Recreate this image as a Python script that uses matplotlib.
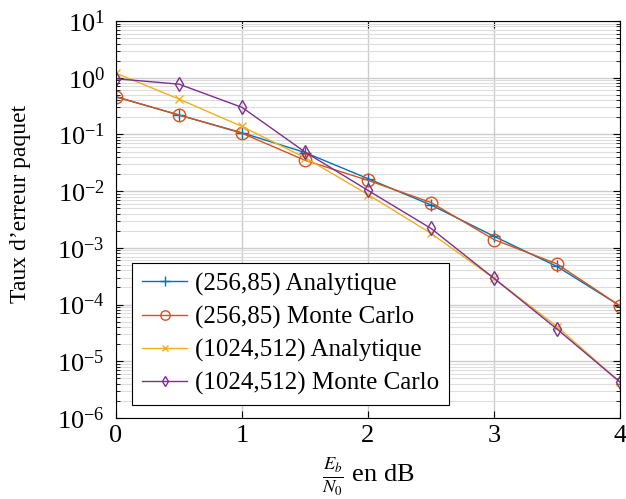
import numpy as np
import matplotlib.pyplot as plt
from matplotlib.ticker import LogLocator, NullFormatter

plt.rcParams["font.family"] = ["Liberation Serif", "DejaVu Serif"]
plt.rcParams["mathtext.fontset"] = "stix"

ebn0 = [0, 0.5, 1, 1.5, 2, 2.5, 3, 3.5, 4]

per_256_ana = [0.46, 0.22, 0.107, 0.048, 0.0166, 0.0057, 0.0016, 4.7e-4, 9.5e-5]
per_256_mc = [0.46, 0.22, 0.105, 0.035, 0.0155, 0.0063, 0.0014, 5.2e-4, 9.5e-5]
per_1024_ana = [1.2, 0.42, 0.138, 0.039, 0.0087, 0.0018, 2.9e-4, 4.1e-5, 4.3e-6]
per_1024_mc = [0.96, 0.77, 0.30, 0.049, 0.0103, 0.0022, 2.9e-4, 3.7e-5, 4.3e-6]

labels = [
    "(256,85) Analytique",
    "(256,85) Monte Carlo",
    "(1024,512) Analytique",
    "(1024,512) Monte Carlo",
]


def main():
    fig = plt.figure(figsize=(6.26, 4.99), dpi=100)
    ax = fig.add_axes([116 / 626, 1 - 418 / 499, 504 / 626, 397 / 499])

    ax.plot(ebn0, per_256_ana, color="#0072BD", marker="+", ms=9, mew=1,
            lw=1, label=labels[0])
    ax.plot(ebn0, per_256_mc, color="#D95319", marker="o", ms=9, mew=1,
            mfc="none", lw=1, label=labels[1])
    ax.plot(ebn0, per_1024_ana, color="#EDB120", marker="x", ms=6, mew=1,
            lw=1, label=labels[2])
    ax.plot(ebn0, per_1024_mc, color="#7E2F8E", marker="d", ms=7, mew=1,
            mfc="none", lw=1, label=labels[3])

    ax.set_yscale("log")
    ax.set_xlim(0, 4)
    ax.set_ylim(1e-6, 1e1)
    ax.set_xticks([0, 1, 2, 3, 4])
    ax.yaxis.set_major_locator(LogLocator(base=10, numticks=20))
    ax.yaxis.set_minor_locator(LogLocator(base=10, subs=np.arange(2, 10), numticks=100))
    ax.yaxis.set_minor_formatter(NullFormatter())

    ax.grid(True, which="major", color="#cccccc", lw=1)
    ax.grid(True, which="minor", axis="y", color="#dddddd", lw=0.8)
    ax.set_axisbelow(True)

    ax.tick_params(which="both", direction="in", top=True, right=True,
                   labelsize=19)
    ax.tick_params(axis="y", pad=8)
    ax.tick_params(axis="x", pad=5)
    ax.tick_params(which="major", length=5)
    ax.tick_params(which="minor", length=3)

    ax.set_xlabel(r"$\frac{E_b}{N_0}$ en dB", fontsize=19, labelpad=6)
    ax.set_ylabel("Taux d\u2019erreur paquet", fontsize=17)
    ax.yaxis.set_label_coords(-0.168, 0.539)

    leg = ax.legend(loc="lower left", bbox_to_anchor=(0.032, 0.033),
                    fontsize=18, fancybox=False, framealpha=1,
                    edgecolor="black", handlelength=1.8, markerscale=0.75,
                    borderpad=0.4, labelspacing=0.4, handletextpad=0.3,
                    borderaxespad=0.0)
    leg.get_frame().set_linewidth(0.8)

    fig.savefig("out.png", dpi=100)


if __name__ == "__main__":
    main()
